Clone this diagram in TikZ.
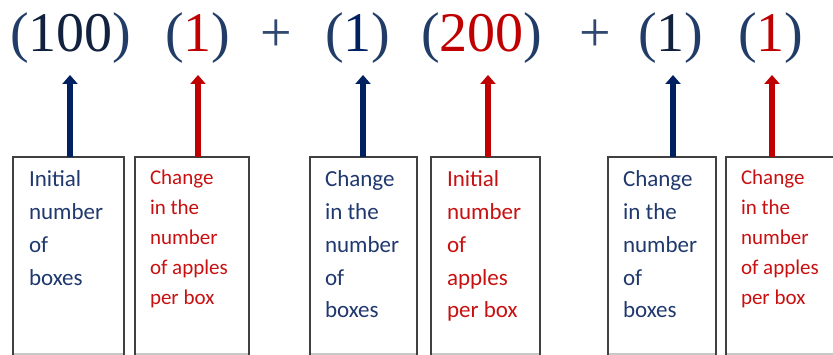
\documentclass[tikz,border=0pt]{standalone}
\usepackage{fontspec}
\setmainfont{Liberation Serif}
\newfontfamily\boxfont{Carlito}
\usetikzlibrary{arrows.meta}
\definecolor{parencol}{RGB}{34,60,104}
\definecolor{pluscol}{RGB}{48,72,112}
\definecolor{darkdigit}{RGB}{18,34,62}
\definecolor{eqred}{RGB}{192,0,0}
\definecolor{arrnavy}{RGB}{0,32,96}
\definecolor{txtblue}{RGB}{31,56,110}
\definecolor{txtred}{RGB}{200,16,16}
\definecolor{boxgray}{RGB}{64,64,64}
\definecolor{lightedge}{RGB}{200,200,200}
\tikzset{
  eq/.style={inner sep=0pt, outer sep=0pt, anchor=base west, font=\fontsize{56}{60}\selectfont, text=parencol},
  labelbox/.style={draw=boxgray, line width=1.4pt, inner sep=0pt, outer sep=0pt, anchor=north west, minimum height=197pt},
  bigtxt/.style={inner sep=0pt, outer sep=0pt, anchor=base west, font=\boxfont\fontsize{23}{32.7}\selectfont},
  smalltxt/.style={inner sep=0pt, outer sep=0pt, anchor=base west, font=\boxfont\fontsize{21}{30}\selectfont},
  upnavy/.style={draw=arrnavy, line width=6pt, -{Triangle[width=15pt,length=9pt]}},
  upred/.style={draw=eqred, line width=6pt, -{Triangle[width=15pt,length=9pt]}},
  boxbottom/.style={draw=lightedge, line width=1.6pt},
}
\begin{document}
\begin{tikzpicture}[x=1pt,y=-1pt]
\useasboundingbox (0,0) rectangle (833,355);
\clip (0,0) rectangle (833,355);
% equation
\node[eq] (e1) at (10,52) {(\textcolor{darkdigit}{100})};
\node[eq] (e2) at (165,52) {(\textcolor{eqred}{1})};
\node[eq, text=pluscol] (p1) at (260,52) {+};
\node[eq] (e3) at (325,52) {(\textcolor{arrnavy}{1})};
\node[eq] (e4) at (421,52) {(\textcolor{eqred}{200})};
\node[eq, text=pluscol] (p2) at (579,52) {+};
\node[eq] (e5) at (638,52) {(\textcolor{darkdigit}{1})};
\node[eq] (e6) at (738,52) {(\textcolor{eqred}{1})};
% boxes
\node[labelbox, minimum width=111pt] (b1) at (13,157) {};
\node[labelbox, minimum width=114pt] (b2) at (135,157) {};
\node[labelbox, minimum width=107pt] (b3) at (310,157) {};
\node[labelbox, minimum width=109pt] (b4) at (431,157) {};
\node[labelbox, minimum width=108pt] (b5) at (608,157) {};
\node[labelbox, minimum width=109pt] (b6) at (726,157) {};
\foreach \b in {b1,b2,b3,b4,b5,b6}{
  \draw[boxbottom] ([xshift=1.2pt]\b.south west) -- ([xshift=-1.2pt]\b.south east);
}
% box texts
\node[bigtxt, text=txtblue] (t1) at (29,187) {\parbox[t]{90pt}{\raggedright Initial\\number\\of\\boxes}};
\node[smalltxt, text=txtred] (t2) at (150,185) {\parbox[t]{95pt}{\raggedright Change\\in the\\number\\of apples\\per box}};
\node[bigtxt, text=txtblue] (t3) at (325,187) {\parbox[t]{90pt}{\raggedright Change\\in the\\number\\of\\boxes}};
\node[bigtxt, text=txtred] (t4) at (447,187) {\parbox[t]{90pt}{\raggedright Initial\\number\\of\\apples\\per box}};
\node[bigtxt, text=txtblue] (t5) at (623,187) {\parbox[t]{90pt}{\raggedright Change\\in the\\number\\of\\boxes}};
\node[smalltxt, text=txtred] (t6) at (741,185) {\parbox[t]{95pt}{\raggedright Change\\in the\\number\\of apples\\per box}};
% arrow tips
\coordinate (a1) at (70,75);
\coordinate (a2) at (198,75);
\coordinate (a3) at (363,75);
\coordinate (a4) at (488,75);
\coordinate (a5) at (673,75);
\coordinate (a6) at (772,75);
\draw[upnavy] (b1.north -| a1) -- (a1);
\draw[upred] (b2.north -| a2) -- (a2);
\draw[upnavy] (b3.north -| a3) -- (a3);
\draw[upred] (b4.north -| a4) -- (a4);
\draw[upnavy] (b5.north -| a5) -- (a5);
\draw[upred] (b6.north -| a6) -- (a6);
\end{tikzpicture}
\end{document}
